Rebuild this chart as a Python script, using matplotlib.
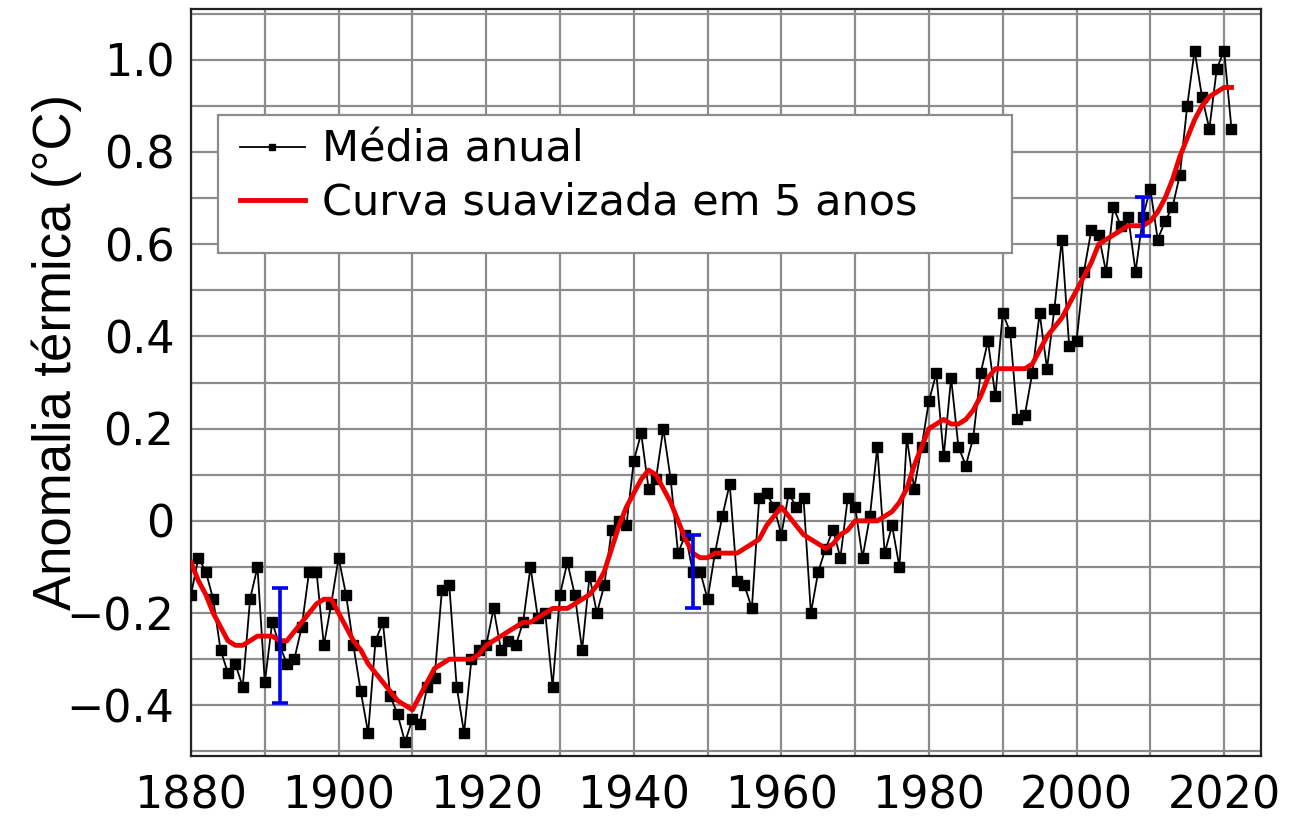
import numpy as np
import matplotlib
matplotlib.use("Agg")
import matplotlib.pyplot as plt
from matplotlib.patches import Rectangle

# annual mean temperature anomaly, 1880-2021
years = list(range(1880, 2022))
annual = [
    -0.16, -0.08, -0.11, -0.17, -0.28, -0.33, -0.31, -0.36, -0.17, -0.10,
    -0.35, -0.22, -0.27, -0.31, -0.30, -0.23, -0.11, -0.11, -0.27, -0.18,
    -0.08, -0.16, -0.27, -0.37, -0.46, -0.26, -0.22, -0.38, -0.42, -0.48,
    -0.43, -0.44, -0.36, -0.34, -0.15, -0.14, -0.36, -0.46, -0.30, -0.28,
    -0.27, -0.19, -0.28, -0.26, -0.27, -0.22, -0.10, -0.21, -0.20, -0.36,
    -0.16, -0.09, -0.16, -0.28, -0.12, -0.20, -0.14, -0.02, 0.00, -0.01,
    0.13, 0.19, 0.07, 0.09, 0.20, 0.09, -0.07, -0.03, -0.11, -0.11,
    -0.17, -0.07, 0.01, 0.08, -0.13, -0.14, -0.19, 0.05, 0.06, 0.03,
    -0.03, 0.06, 0.03, 0.05, -0.20, -0.11, -0.06, -0.02, -0.08, 0.05,
    0.03, -0.08, 0.01, 0.16, -0.07, -0.01, -0.10, 0.18, 0.07, 0.16,
    0.26, 0.32, 0.14, 0.31, 0.16, 0.12, 0.18, 0.32, 0.39, 0.27,
    0.45, 0.41, 0.22, 0.23, 0.32, 0.45, 0.33, 0.46, 0.61, 0.38,
    0.39, 0.54, 0.63, 0.62, 0.54, 0.68, 0.64, 0.66, 0.54, 0.66,
    0.72, 0.61, 0.65, 0.68, 0.75, 0.90, 1.02, 0.92, 0.85, 0.98,
    1.02, 0.85,
]

# 5-year smoothed curve
smooth = [
    -0.09, -0.13, -0.16, -0.20, -0.23, -0.26, -0.27, -0.27, -0.26, -0.25,
    -0.25, -0.25, -0.26, -0.26, -0.24, -0.22, -0.20, -0.18, -0.17, -0.17,
    -0.20, -0.23, -0.26, -0.28, -0.31, -0.33, -0.35, -0.37, -0.39, -0.40,
    -0.41, -0.38, -0.35, -0.32, -0.31, -0.30, -0.30, -0.30, -0.30, -0.29,
    -0.27, -0.26, -0.25, -0.24, -0.23, -0.22, -0.22, -0.21, -0.20, -0.19,
    -0.19, -0.19, -0.18, -0.17, -0.16, -0.14, -0.11, -0.06, -0.01, 0.03,
    0.06, 0.09, 0.11, 0.10, 0.07, 0.04, 0.00, -0.04, -0.07, -0.08,
    -0.08, -0.07, -0.07, -0.07, -0.07, -0.06, -0.05, -0.04, -0.01, 0.01,
    0.03, 0.01, -0.01, -0.03, -0.04, -0.05, -0.06, -0.05, -0.03, -0.02,
    0.00, 0.00, 0.00, 0.00, 0.01, 0.02, 0.04, 0.07, 0.12, 0.16,
    0.20, 0.21, 0.22, 0.21, 0.21, 0.22, 0.24, 0.27, 0.31, 0.33,
    0.33, 0.33, 0.33, 0.33, 0.34, 0.37, 0.40, 0.42, 0.44, 0.47,
    0.50, 0.53, 0.56, 0.60, 0.61, 0.62, 0.63, 0.64, 0.64, 0.64,
    0.65, 0.67, 0.70, 0.74, 0.79, 0.83, 0.87, 0.90, 0.92, 0.93,
    0.94, 0.94,
]

# uncertainty bars
err_years = [1892, 1948, 2009]
err_center = [-0.27, -0.11, 0.66]
err_half = [0.125, 0.08, 0.042]

yticks = [-0.4, -0.2, 0, 0.2, 0.4, 0.6, 0.8, 1.0]
ytick_labels = ["\u22120.4", "\u22120.2", "0", "0.2", "0.4", "0.6", "0.8", "1.0"]
xticks = [1880, 1900, 1920, 1940, 1960, 1980, 2000, 2020]

fig = plt.figure(figsize=(13.13, 8.22), dpi=100)
ax = fig.add_axes([0.1455, 0.0803, 0.8149, 0.9087])

ax.set_xlim(1880, 2025)
ax.set_ylim(-0.51, 1.11)

ax.set_xticks(xticks)
ax.set_xticklabels([str(x) for x in xticks])
ax.set_yticks(yticks)
ax.set_yticklabels(ytick_labels)
ax.set_xticks(np.arange(1890, 2025, 20), minor=True)
ax.set_yticks(np.arange(-0.5, 1.11, 0.1), minor=True)
ax.grid(True, which="both", color="#8c8c8c", linewidth=1.6)
ax.set_axisbelow(True)

ax.plot(years, annual, color="black", linewidth=1.3, marker="s",
        markersize=6.5, label="M\u00e9dia anual", zorder=3)
ax.plot(years, smooth, color="#ee0000", linewidth=3.5,
        label="Curva suavizada em 5 anos", zorder=4)
ax.errorbar(err_years, err_center, yerr=err_half, fmt="none",
            ecolor="#0000ee", elinewidth=2.6, capsize=6, capthick=2.6, zorder=5)

ax.tick_params(axis="both", which="both", length=0, labelsize=32)
ax.tick_params(axis="x", pad=13)
ax.tick_params(axis="y", pad=12)

for spine in ax.spines.values():
    spine.set_linewidth(1.6)
    spine.set_color("#222222")

fig.text(57 / 1313, 1 - 352 / 822, "Anomalia t\u00e9rmica (\u00b0C)",
         rotation=90, ha="center", va="center", fontsize=38,
         family=["Liberation Sans", "DejaVu Sans"])

# legend box
box = Rectangle((218 / 1313, 1 - 253 / 822), 794 / 1313, 138 / 822,
                transform=fig.transFigure, facecolor="white",
                edgecolor="#8c8c8c", linewidth=1.6, zorder=6, clip_on=False)
ax.add_patch(box)
leg = ax.legend(loc="upper left", bbox_to_anchor=(240 / 1313, 1 - 129 / 822),
                bbox_transform=fig.transFigure, frameon=False, fontsize=31,
                handlelength=1.5, handletextpad=0.4, labelspacing=0.25,
                borderpad=0, borderaxespad=0, markerscale=0.6)
leg.set_zorder(7)

fig.savefig("out.png", dpi=100)
